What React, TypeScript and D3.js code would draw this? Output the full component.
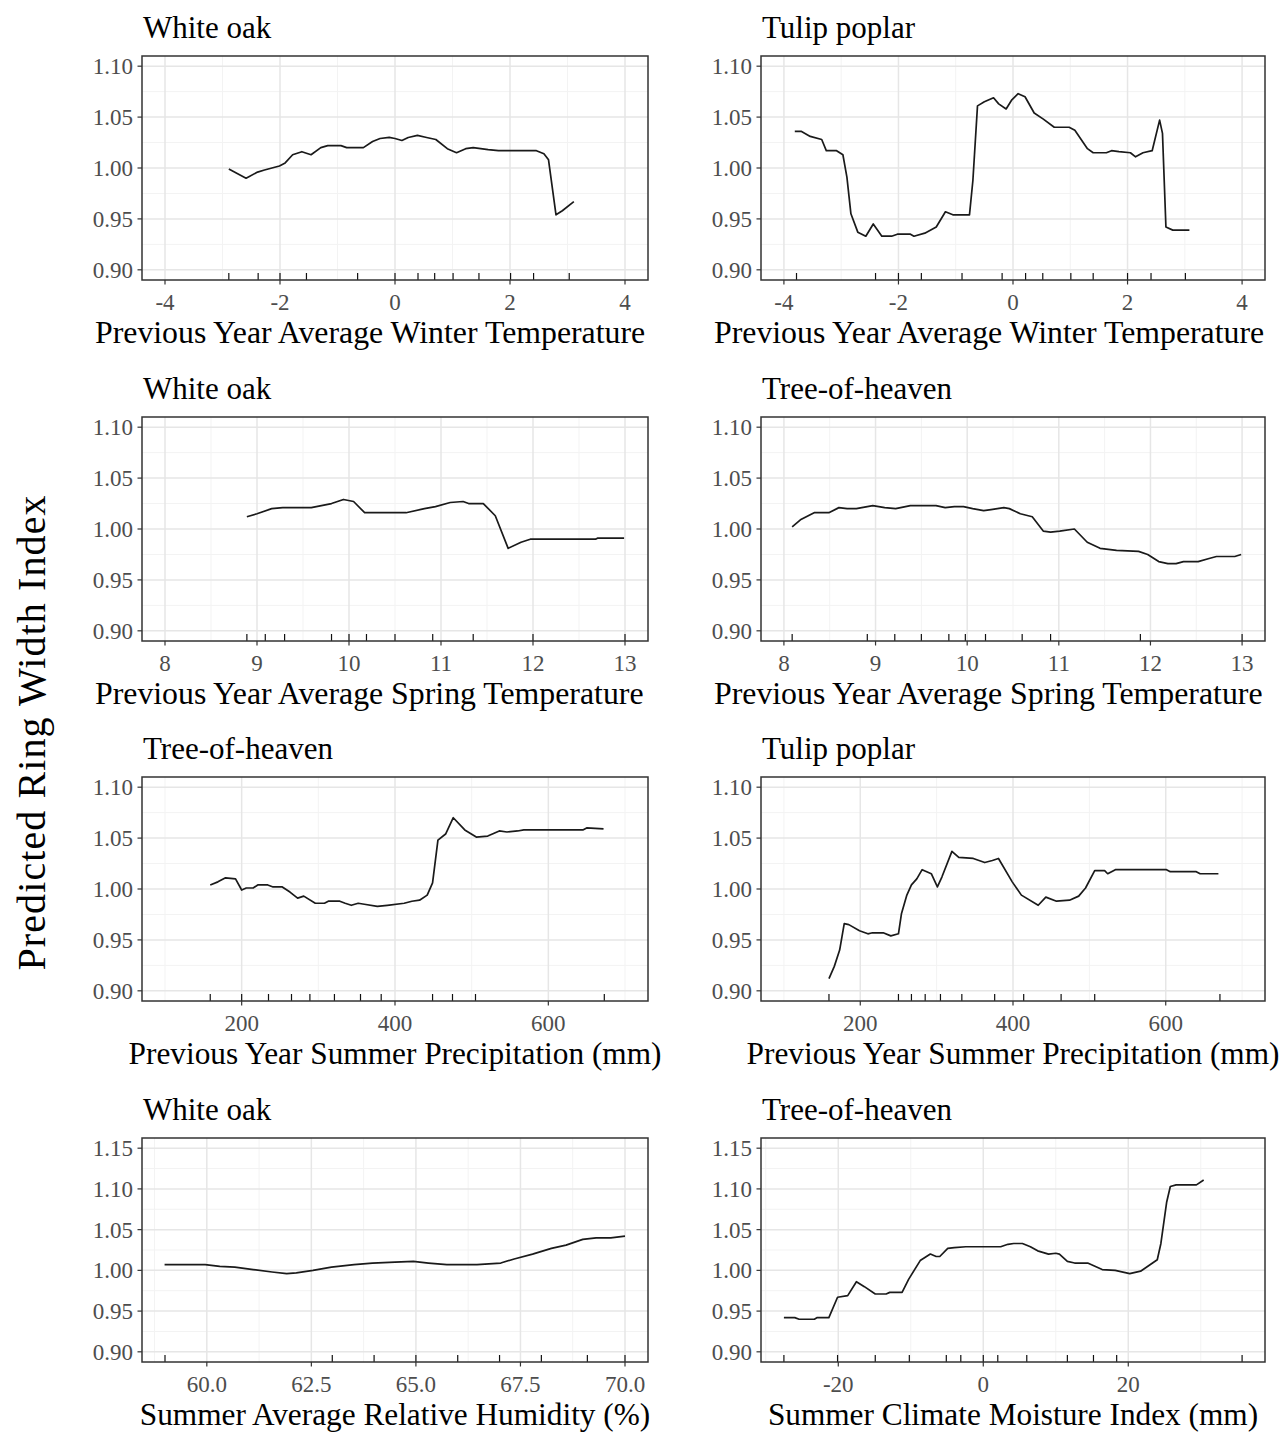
import React from "react";
import * as d3 from "d3";

// ---- data (x, predicted ring width index) ----
const whiteOakWinter = [
  [-2.89, 0.999], [-2.59, 0.99], [-2.39, 0.996], [-2.27, 0.998], [-2.01, 1.002], [-1.91, 1.005],
  [-1.78, 1.013], [-1.62, 1.016], [-1.46, 1.013], [-1.29, 1.02], [-1.17, 1.022], [-0.94, 1.022],
  [-0.84, 1.02], [-0.55, 1.02], [-0.39, 1.026], [-0.26, 1.029], [-0.1, 1.03], [0.0, 1.029],
  [0.12, 1.027], [0.23, 1.03], [0.39, 1.032], [0.55, 1.03], [0.71, 1.028], [0.91, 1.019],
  [1.07, 1.015], [1.23, 1.019], [1.36, 1.02], [1.62, 1.018], [1.8, 1.017], [2.46, 1.017],
  [2.59, 1.014], [2.67, 1.008], [2.8, 0.954], [2.91, 0.958], [3.11, 0.967],
];
const tulipWinter = [
  [-3.81, 1.036], [-3.7, 1.036], [-3.54, 1.031], [-3.34, 1.028], [-3.26, 1.017], [-3.08, 1.017],
  [-2.97, 1.013], [-2.9, 0.991], [-2.83, 0.955], [-2.71, 0.937], [-2.57, 0.933], [-2.44, 0.945],
  [-2.29, 0.933], [-2.12, 0.933], [-2.02, 0.935], [-1.79, 0.935], [-1.73, 0.933], [-1.54, 0.936],
  [-1.34, 0.942], [-1.18, 0.957], [-1.05, 0.954], [-0.76, 0.954], [-0.7, 0.988], [-0.62, 1.061],
  [-0.5, 1.065], [-0.34, 1.069], [-0.25, 1.063], [-0.12, 1.058], [-0.02, 1.067], [0.09, 1.073],
  [0.21, 1.07], [0.37, 1.054], [0.53, 1.048], [0.72, 1.04], [0.98, 1.04], [1.08, 1.037],
  [1.3, 1.019], [1.4, 1.015], [1.63, 1.015], [1.72, 1.017], [1.85, 1.016], [2.05, 1.015],
  [2.14, 1.011], [2.27, 1.015], [2.43, 1.017], [2.56, 1.047], [2.61, 1.034], [2.67, 0.942],
  [2.79, 0.939], [3.08, 0.939],
];
const whiteOakSpring = [
  [8.89, 1.012], [9.0, 1.015], [9.16, 1.02], [9.28, 1.021], [9.59, 1.021], [9.81, 1.025],
  [9.94, 1.029], [10.05, 1.027], [10.17, 1.016], [10.62, 1.016], [10.82, 1.02], [10.94, 1.022],
  [11.1, 1.026], [11.24, 1.027], [11.3, 1.025], [11.46, 1.025], [11.59, 1.013], [11.73, 0.981],
  [11.87, 0.987], [11.97, 0.99], [12.68, 0.99], [12.7, 0.991], [12.99, 0.991],
];
const heavenSpring = [
  [8.09, 1.002], [8.18, 1.009], [8.33, 1.016], [8.49, 1.016], [8.6, 1.021], [8.69, 1.02],
  [8.79, 1.02], [8.85, 1.021], [8.97, 1.023], [9.1, 1.021], [9.22, 1.02], [9.38, 1.023],
  [9.66, 1.023], [9.76, 1.021], [9.86, 1.022], [9.96, 1.022], [10.06, 1.02], [10.18, 1.018],
  [10.26, 1.019], [10.4, 1.021], [10.46, 1.02], [10.58, 1.015], [10.71, 1.012], [10.83, 0.998],
  [10.91, 0.997], [11.01, 0.998], [11.17, 1.0], [11.31, 0.987], [11.45, 0.981], [11.63, 0.979],
  [11.87, 0.978], [11.97, 0.975], [12.09, 0.968], [12.19, 0.966], [12.28, 0.966], [12.36, 0.968],
  [12.52, 0.968], [12.64, 0.971], [12.72, 0.973], [12.92, 0.973], [12.99, 0.975],
];
const heavenPrecip = [
  [159, 1.004], [169, 1.007], [179, 1.011], [192, 1.01], [200, 0.999], [206, 1.001], [215, 1.001],
  [221, 1.004], [234, 1.004], [241, 1.002], [253, 1.002], [263, 0.997], [273, 0.991], [281, 0.993],
  [296, 0.986], [308, 0.986], [313, 0.988], [328, 0.988], [335, 0.986], [343, 0.984], [352, 0.986],
  [360, 0.985], [377, 0.983], [390, 0.984], [412, 0.986], [422, 0.988], [432, 0.989], [442, 0.994],
  [449, 1.006], [456, 1.048], [466, 1.054], [476, 1.07], [491, 1.058], [506, 1.051], [521, 1.052],
  [536, 1.057], [546, 1.056], [560, 1.057], [568, 1.058], [645, 1.058], [650, 1.06], [672, 1.059],
];
const tulipPrecip = [
  [159, 0.912], [166, 0.924], [173, 0.94], [179, 0.966], [185, 0.965], [199, 0.959], [210, 0.956],
  [216, 0.957], [230, 0.957], [240, 0.954], [250, 0.956], [254, 0.976], [261, 0.994], [267, 1.004],
  [274, 1.01], [281, 1.019], [293, 1.015], [301, 1.002], [307, 1.012], [320, 1.037], [329, 1.031],
  [348, 1.03], [363, 1.026], [373, 1.028], [381, 1.03], [399, 1.007], [411, 0.994], [433, 0.984],
  [443, 0.992], [457, 0.988], [474, 0.989], [486, 0.993], [495, 1.001], [507, 1.018], [520, 1.018],
  [524, 1.015], [534, 1.019], [601, 1.019], [606, 1.017], [640, 1.017], [645, 1.015], [669, 1.015],
];
const whiteOakHumidity = [
  [58.99, 1.007], [59.96, 1.007], [60.31, 1.005], [60.67, 1.004], [61.11, 1.001], [61.56, 0.998],
  [61.91, 0.996], [62.14, 0.997], [62.54, 1.0], [62.98, 1.004], [63.52, 1.007], [63.96, 1.009],
  [64.5, 1.01], [64.94, 1.011], [65.3, 1.009], [65.74, 1.007], [66.46, 1.007], [67.03, 1.009],
  [67.35, 1.014], [67.79, 1.02], [68.24, 1.027], [68.59, 1.031], [68.99, 1.038], [69.31, 1.04],
  [69.66, 1.04], [70.0, 1.042],
];
const heavenCmi = [
  [-27.5, 0.942], [-26.0, 0.942], [-25.4, 0.94], [-23.3, 0.94], [-22.9, 0.942], [-21.3, 0.942],
  [-20.1, 0.967], [-18.7, 0.969], [-17.5, 0.986], [-16.4, 0.98], [-14.9, 0.971], [-13.4, 0.971],
  [-12.9, 0.973], [-11.2, 0.973], [-10.3, 0.989], [-8.7, 1.012], [-7.3, 1.02], [-6.5, 1.017],
  [-6.0, 1.017], [-4.9, 1.027], [-4.0, 1.028], [-2.4, 1.029], [2.4, 1.029], [3.4, 1.032],
  [4.2, 1.033], [5.4, 1.033], [6.5, 1.029], [7.5, 1.024], [9.0, 1.02], [10.0, 1.021],
  [10.5, 1.02], [11.6, 1.011], [12.6, 1.009], [14.4, 1.009], [16.4, 1.001], [18.2, 1.0],
  [20.2, 0.996], [21.7, 0.999], [22.7, 1.005], [24.0, 1.013], [24.5, 1.033], [25.3, 1.084],
  [25.8, 1.103], [26.6, 1.105], [29.4, 1.105], [30.4, 1.111],
];

// rug marks (deciles of the predictor)
const rugWhiteOakWinter = [-2.89, -2.38, -2.0, -1.54, -0.65, 0.0, 0.4, 0.69, 1.01, 1.46, 2.01, 2.41, 3.03];
const rugTulipWinter = [-3.78, -2.4, -2.0, -1.6, -0.89, -0.19, 0.22, 0.52, 1.01, 1.4, 2.0, 2.41, 3.01];
const rugWhiteOakSpring = [8.89, 9.09, 9.3, 9.81, 10.0, 10.19, 10.5, 10.91, 11.35, 12.0, 13.0];
const rugHeavenSpring = [8.09, 8.91, 9.21, 9.5, 9.8, 9.98, 10.2, 10.6, 10.91, 11.89, 13.0];
const rugHeavenPrecip = [159, 200, 235, 265, 289, 321, 355, 382, 449, 475, 505, 673];
const rugTulipPrecip = [159, 250, 267, 285, 305, 333, 376, 414, 463, 507, 671];
const rugWhiteOakHumidity = [59, 63, 64, 65, 66, 67, 68, 69.1, 70];
const rugHeavenCmi = [-27.5, -20.1, -14.9, -10.2, -5.1, -3.1, 0, 2.0, 6.0, 11.6, 15.2, 18.4, 35.7];

// tick values
const winterTicks = [-4, -2, 0, 2, 4];
const winterMinor = [-3, -1, 1, 3];
const springTicks = [8, 9, 10, 11, 12, 13];
const springMinor = [8.5, 9.5, 10.5, 11.5, 12.5];
const precipTicks = [200, 400, 600];
const precipMinor = [100, 300, 500, 700];
const humidityTicks = [60, 62.5, 65, 67.5, 70];
const humidityMinor = [58.75, 61.25, 63.75, 66.25, 68.75];
const cmiTicks = [-20, 0, 20];
const cmiMinor = [-30, -10, 10, 30];
const yTicksShort = [0.9, 0.95, 1.0, 1.05, 1.1];
const yMinorShort = [0.925, 0.975, 1.025, 1.075];
const yTicksTall = [0.9, 0.95, 1.0, 1.05, 1.1, 1.15];
const yMinorTall = [0.925, 0.975, 1.025, 1.075, 1.125];

const FONT = '"Liberation Serif", "Times New Roman", Times, serif';

// ggplot-style 5% expansion of limits
const expand = (lo, hi, m = 0.05) => [lo - (hi - lo) * m, hi + (hi - lo) * m];

// the temperature titles are cut at the panel edge in the original; only the visible part is kept
const panels = [
  { title: "White oak", xlab: "Previous Year Average Winter Temperature", longLab: true, data: whiteOakWinter, rug: rugWhiteOakWinter, xDom: expand(-4, 4), xTicks: winterTicks, xMinor: winterMinor, fmt: d3.format("d"), tall: false },
  { title: "Tulip poplar", xlab: "Previous Year Average Winter Temperature", longLab: true, data: tulipWinter, rug: rugTulipWinter, xDom: expand(-4, 4), xTicks: winterTicks, xMinor: winterMinor, fmt: d3.format("d"), tall: false },
  { title: "White oak", xlab: "Previous Year Average Spring Temperature", longLab: true, data: whiteOakSpring, rug: rugWhiteOakSpring, xDom: expand(8, 13), xTicks: springTicks, xMinor: springMinor, fmt: d3.format("d"), tall: false },
  { title: "Tree-of-heaven", xlab: "Previous Year Average Spring Temperature", longLab: true, data: heavenSpring, rug: rugHeavenSpring, xDom: expand(8, 13), xTicks: springTicks, xMinor: springMinor, fmt: d3.format("d"), tall: false },
  { title: "Tree-of-heaven", xlab: "Previous Year Summer Precipitation (mm)", data: heavenPrecip, rug: rugHeavenPrecip, xDom: expand(100, 700), xTicks: precipTicks, xMinor: precipMinor, fmt: d3.format("d"), tall: false },
  { title: "Tulip poplar", xlab: "Previous Year Summer Precipitation (mm)", data: tulipPrecip, rug: rugTulipPrecip, xDom: expand(100, 700), xTicks: precipTicks, xMinor: precipMinor, fmt: d3.format("d"), tall: false },
  { title: "White oak", xlab: "Summer Average Relative Humidity (%)", data: whiteOakHumidity, rug: rugWhiteOakHumidity, xDom: expand(59, 70), xTicks: humidityTicks, xMinor: humidityMinor, fmt: d3.format(".1f"), tall: true },
  { title: "Tree-of-heaven", xlab: "Summer Climate Moisture Index (mm)", data: heavenCmi, rug: rugHeavenCmi, xDom: expand(-27.5, 35.7), xTicks: cmiTicks, xMinor: cmiMinor, fmt: d3.format("d"), tall: true },
];

const cols = [
  { left: 142, right: 648 },
  { left: 761, right: 1265 },
];
const rowTops = [56, 417, 777, 1138];
const boxH = 224;

const Panel = ({ p, i }) => {
  const col = cols[i % 2];
  const top = rowTops[Math.floor(i / 2)];
  const bottom = top + boxH;
  const x = d3.scaleLinear().domain(p.xDom).range([col.left, col.right]);
  const yDom = p.tall ? expand(0.9, 1.15) : expand(0.9, 1.1);
  const y = d3.scaleLinear().domain(yDom).range([bottom, top]);
  const yTicks = p.tall ? yTicksTall : yTicksShort;
  const yMinor = p.tall ? yMinorTall : yMinorShort;
  const line = d3.line().x((d) => x(d[0])).y((d) => y(d[1]));
  const fmtY = d3.format(".2f");
  const fmtX = (v) => p.fmt(v).replace("−", "-");
  const cx = (col.left + col.right) / 2;

  return (
    <g>
      <rect x={col.left} y={top} width={col.right - col.left} height={boxH} fill="#fff" />
      {/* minor grid */}
      {p.xMinor.map((v) => (
        <line key={"xm" + v} x1={x(v)} x2={x(v)} y1={top} y2={bottom} stroke="#f3f3f3" strokeWidth={1} />
      ))}
      {yMinor.map((v) => (
        <line key={"ym" + v} x1={col.left} x2={col.right} y1={y(v)} y2={y(v)} stroke="#f3f3f3" strokeWidth={1} />
      ))}
      {/* major grid */}
      {p.xTicks.map((v) => (
        <line key={"xg" + v} x1={x(v)} x2={x(v)} y1={top} y2={bottom} stroke="#e6e6e6" strokeWidth={1.5} />
      ))}
      {yTicks.map((v) => (
        <line key={"yg" + v} x1={col.left} x2={col.right} y1={y(v)} y2={y(v)} stroke="#e6e6e6" strokeWidth={1.5} />
      ))}
      {/* rug */}
      {p.rug.map((v, k) => (
        <line key={"r" + k} x1={x(v)} x2={x(v)} y1={bottom} y2={bottom - 7} stroke="#111" strokeWidth={1.2} />
      ))}
      <path d={line(p.data)} fill="none" stroke="#1a1a1a" strokeWidth={1.7} strokeLinejoin="round" />
      <rect x={col.left} y={top} width={col.right - col.left} height={boxH} fill="none" stroke="#333" strokeWidth={1.5} />
      {/* axes */}
      {p.xTicks.map((v) => (
        <g key={"xt" + v}>
          <line x1={x(v)} x2={x(v)} y1={bottom} y2={bottom + 4.5} stroke="#333" strokeWidth={1.2} />
          <text x={x(v)} y={bottom + 30} textAnchor="middle" fontSize={23} fill="#4d4d4d" fontFamily={FONT}>
            {fmtX(v)}
          </text>
        </g>
      ))}
      {yTicks.map((v) => (
        <g key={"yt" + v}>
          <line x1={col.left - 4.5} x2={col.left} y1={y(v)} y2={y(v)} stroke="#333" strokeWidth={1.2} />
          <text x={col.left - 9} y={y(v)} dy="0.35em" textAnchor="end" fontSize={23} fill="#4d4d4d" fontFamily={FONT}>
            {fmtY(v)}
          </text>
        </g>
      ))}
      <text x={col.left + 1} y={top - 18} fontSize={31} fill="#000" fontFamily={FONT}>
        {p.title}
      </text>
      {p.longLab ? (
        <text x={col.left - 47} y={bottom + 63} fontSize={31.8} fill="#000" fontFamily={FONT}>
          {p.xlab}
        </text>
      ) : (
        <text x={cx} y={bottom + 63} textAnchor="middle" fontSize={31.3} fill="#000" fontFamily={FONT}>
          {p.xlab}
        </text>
      )}
    </g>
  );
};

const App = () => {
  return (
    <svg
      width={1281}
      height={1432}
      style={{ position: "absolute", left: 0, top: 0, background: "#fff" }}
    >
      <rect width={1281} height={1432} fill="#fff" />
      {panels.map((p, i) => (
        <Panel key={i} p={p} i={i} />
      ))}
      <text
        transform="translate(45,733) rotate(-90)"
        textAnchor="middle"
        fontSize={40}
        textLength={475}
        lengthAdjust="spacing"
        fill="#000"
        fontFamily={FONT}
      >
        Predicted Ring Width Index
      </text>
    </svg>
  );
};

export default App;
